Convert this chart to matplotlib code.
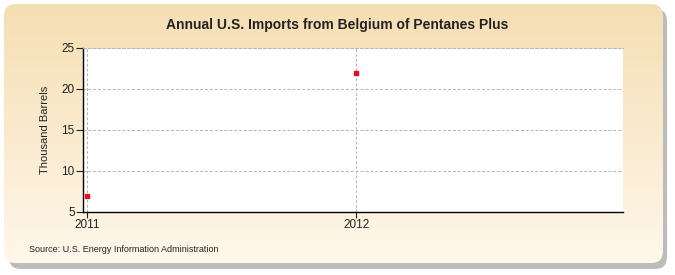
import numpy as np
import matplotlib
matplotlib.use("Agg")
import matplotlib.pyplot as plt
from matplotlib.patches import FancyBboxPatch

# data
years = [2011, 2012]
values = [7, 22]
yticks = [5, 10, 15, 20, 25]
title = "Annual U.S. Imports from Belgium of Pentanes Plus"
ylabel = "Thousand Barrels"
source = "Source: U.S. Energy Information Administration"

plt.rcParams['font.family'] = ['Liberation Sans', 'DejaVu Sans']

W, H = 675, 275
fig = plt.figure(figsize=(W / 100, H / 100), dpi=100)

# background panel with shadow and gradient
bg = fig.add_axes([0, 0, 1, 1])
bg.set_xlim(0, W)
bg.set_ylim(H, 0)
bg.axis('off')

shadow = FancyBboxPatch((9, 9), W - 17, H - 15,
                        boxstyle="round,pad=0,rounding_size=12",
                        fc='#a0a0a0', ec='none', alpha=0.7)
bg.add_patch(shadow)
panel = FancyBboxPatch((4, 4), W - 16, H - 16,
                       boxstyle="round,pad=0,rounding_size=12",
                       fc='none', ec='none')
bg.add_patch(panel)
grad = np.linspace(0, 1, 256).reshape(-1, 1)
top = np.array([0.96, 0.87, 0.70])
bot = np.array([1.0, 0.97, 0.92])
img = top + (bot - top) * grad[..., None]
im = bg.imshow(img, extent=[4, W - 12, H - 12, 4], aspect='auto', zorder=1)
im.set_clip_path(panel)

bg.text(337, 25, title, ha='center', va='center', fontsize=10,
        fontweight='bold', color='#222222', zorder=3)
bg.text(29, 250, source, ha='left', va='center', fontsize=6.5,
        color='#222222', zorder=3)

# plot area
x0, x1, y0, y1 = 83, 623, 48, 212
ax = fig.add_axes([x0 / W, 1 - y1 / H, (x1 - x0) / W, (y1 - y0) / H])
ax.set_facecolor('white')
ax.plot(years, values, linestyle='none', marker='s', markersize=3.5,
        color='#dd1122', zorder=5, clip_on=False)

ax.set_xlim(2010.985, 2012.99)
ax.set_ylim(5, 25)
ax.set_yticks(yticks)
ax.set_xticks(years)
ax.set_xticklabels([str(y) for y in years])

ax.grid(True, color='#b4b4b4', linestyle=(0, (3, 2)), linewidth=0.7)
ax.spines['top'].set_visible(True)
ax.spines['top'].set_color('#b4b4b4')
ax.spines['top'].set_linestyle((0, (3, 2)))
ax.spines['top'].set_linewidth(0.7)
ax.spines['right'].set_visible(False)
ax.spines['left'].set_linewidth(1.0)
ax.spines['bottom'].set_linewidth(1.0)

ax.tick_params(axis='y', direction='out', length=5, width=0.8,
               labelsize=8.5, pad=1, colors='#222222')
ax.tick_params(axis='x', direction='out', length=4, width=0.8,
               labelsize=8.5, pad=1, colors='#222222')
ax.set_ylabel(ylabel, fontsize=8, color='#222222', labelpad=8)

fig.savefig('out.png', dpi=100)
